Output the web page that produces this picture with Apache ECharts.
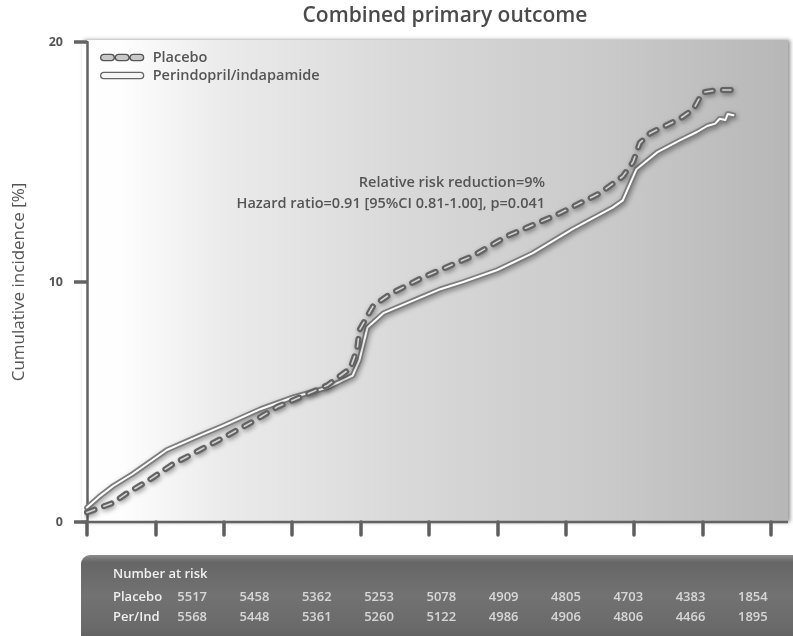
<!DOCTYPE html>
<html><head><meta charset="utf-8">
<script src="https://cdn.jsdelivr.net/npm/echarts@6/dist/echarts.min.js"></script>
<style>html,body{margin:0;padding:0;background:#fff}#c{width:793px;height:636px}</style>
</head><body><div id="c"></div>
<script>
// ---- data (months since randomisation, cumulative incidence %) ----
const placeboMonths = [0, 2.3, 3.5, 5.3, 7.5, 9.9, 12.3, 14.6, 16.7, 18.7, 21.1, 23.1, 23.7, 23.9, 25.1, 26.6, 29.5, 33.9, 36.8, 41.2, 45.0, 47.0, 47.9, 48.5, 49.4, 52.0, 53.2, 54.0, 55.3, 56.7];
const placeboPct    = [0.4, 0.8, 1.2, 1.7, 2.4, 3.0, 3.6, 4.2, 4.8, 5.2, 5.7, 6.4, 7.2, 8.0, 9.0, 9.5, 10.2, 11.1, 11.9, 12.8, 13.7, 14.4, 15.0, 15.8, 16.2, 16.8, 17.2, 17.9, 18.0, 18.0];
const perIndMonths  = [0, 1.2, 2.3, 4.0, 5.5, 7.0, 9.9, 11.9, 15.2, 18.1, 21.1, 23.3, 23.9, 24.6, 26.0, 29.5, 31.0, 33.0, 36.0, 39.1, 42.6, 46.1, 47.0, 48.2, 50.0, 52.0, 53.5, 54.4, 55.1, 55.5, 56.0, 56.2, 56.7];
const perIndPct     = [0.6, 1.1, 1.5, 2.0, 2.5, 3.0, 3.6, 4.0, 4.7, 5.2, 5.6, 6.1, 6.75, 8.1, 8.7, 9.4, 9.7, 10.0, 10.5, 11.2, 12.2, 13.1, 13.4, 14.7, 15.4, 15.9, 16.25, 16.5, 16.6, 16.8, 16.75, 17.0, 16.95];
const seriesNames   = ['Placebo', 'Perindopril/indapamide'];
const yTickValues   = [0, 10, 20];
const xTickMonths   = [0, 6, 12, 18, 24, 30, 36, 42, 48, 54, 60];
const riskRowNames  = ['Placebo', 'Per/Ind'];
const riskPlacebo   = [5517, 5458, 5362, 5253, 5078, 4909, 4805, 4703, 4383, 1854];
const riskPerInd    = [5568, 5448, 5361, 5260, 5122, 4986, 4906, 4806, 4466, 1895];
const titleText     = 'Combined primary outcome';
const yAxisTitle    = 'Cumulative incidence [%]';
const noteLines     = ['Relative risk reduction=9%', 'Hazard ratio=0.91 [95%CI 0.81-1.00], p=0.041'];
const tableHeader   = 'Number at risk';

const FONT = '"Open Sans", "Noto Sans", sans-serif';
const pair = (xs, ys) => xs.map((x, i) => [x, ys[i]]);
const placeboData = pair(placeboMonths, placeboPct);
const perIndData = pair(perIndMonths, perIndPct);

const riskCols = riskPlacebo.map((_, i) => String(i));
const riskData = [];
riskPlacebo.forEach((v, i) => riskData.push([i, 0, v]));
riskPerInd.forEach((v, i) => riskData.push([i, 1, v]));

const placeboIcon = 'path://M3,0H10A3,3 0 0 1 10,6H3A3,3 0 0 1 3,0Z M17,0H24A3,3 0 0 1 24,6H17A3,3 0 0 1 17,0Z M31,0H38A3,3 0 0 1 38,6H31A3,3 0 0 1 31,0Z';
const capsuleIcon = 'path://M3,0H38A3,3 0 0 1 38,6H3A3,3 0 0 1 3,0Z';

const chart = echarts.init(document.getElementById('c'), null, {renderer: 'canvas'});
const shadow = {shadowColor: 'rgba(0,0,0,0.4)', shadowBlur: 5, shadowOffsetX: 1, shadowOffsetY: 2};

chart.setOption({
  animation: false,
  backgroundColor: '#ffffff',
  textStyle: {fontFamily: FONT},
  title: {
    text: titleText, left: 440, top: 1, textAlign: 'center',
    textStyle: {fontFamily: FONT, fontSize: 21, fontWeight: 600, color: '#4a4a4a'}
  },
  legend: {
    orient: 'vertical', left: 95, top: 45, itemWidth: 43, itemHeight: 7, itemGap: 3,
    selectedMode: false,
    textStyle: {fontFamily: FONT, fontSize: 14.5, fontWeight: 600, color: '#555', padding: [0, 0, 0, 4]},
    data: [
      {name: seriesNames[0], icon: placeboIcon, itemStyle: {color: '#c8c8c8', borderColor: '#555', borderWidth: 1.3}},
      {name: seriesNames[1], icon: capsuleIcon, itemStyle: {color: '#f6f6f6', borderColor: '#666', borderWidth: 1.3}}
    ]
  },
  grid: [
    {left: 87, right: 22, top: 42, bottom: 114},
    {left: 161, right: 9, top: 587, height: 40}
  ],
  xAxis: [
    {
      type: 'value', gridIndex: 0, min: xTickMonths[0], max: xTickMonths[xTickMonths.length - 1], interval: 6,
      offset: 5,
      axisLine: {show: false},
      axisTick: {show: true, length: 13, lineStyle: {color: '#5e5e5e', width: 3.5, cap: 'round'}},
      axisLabel: {show: false}, splitLine: {show: false}
    },
    {
      type: 'category', gridIndex: 1, data: riskCols,
      axisLine: {show: false}, axisTick: {show: false}, axisLabel: {show: false}, splitLine: {show: false}
    }
  ],
  yAxis: [
    {
      type: 'value', gridIndex: 0, min: yTickValues[0], max: yTickValues[2], interval: 10,
      offset: 5,
      name: yAxisTitle, nameLocation: 'middle', nameGap: 54, nameRotate: 90,
      nameTextStyle: {fontFamily: FONT, fontSize: 17, fontWeight: 500, color: '#555'},
      axisLine: {show: true, lineStyle: {color: '#636363', width: 2.5}},
      axisTick: {show: true, inside: false, length: 13, lineStyle: {color: '#636363', width: 3.5}},
      axisLabel: {margin: 19, fontFamily: FONT, fontSize: 12.5, fontWeight: 700, color: '#555'},
      splitLine: {show: false}
    },
    {
      type: 'category', gridIndex: 1, data: riskRowNames, inverse: true,
      axisLine: {show: false}, axisTick: {show: false}, splitLine: {show: false},
      axisLabel: {margin: 48, align: 'left', fontFamily: FONT, fontSize: 13, fontWeight: 600, color: '#f0f0f0'}
    }
  ],
  series: [
    {
      name: seriesNames[1], type: 'line', xAxisIndex: 0, yAxisIndex: 0, data: perIndData,
      symbol: 'none', z: 3, color: '#f6f6f6',
      lineStyle: Object.assign({color: '#7c7c7c', width: 5.5, join: 'round', cap: 'round'}, shadow)
    },
    {
      name: 'perind-core', type: 'line', xAxisIndex: 0, yAxisIndex: 0, data: perIndData,
      symbol: 'none', z: 4, silent: true,
      lineStyle: {color: '#ffffff', width: 2, join: 'round', cap: 'round'}
    },
    {
      name: seriesNames[0], type: 'line', xAxisIndex: 0, yAxisIndex: 0, data: placeboData,
      symbol: 'none', z: 5, color: '#c8c8c8',
      lineStyle: Object.assign({color: '#636363', width: 6, type: [8, 10], cap: 'round', join: 'round'}, shadow)
    },
    {
      name: 'placebo-core', type: 'line', xAxisIndex: 0, yAxisIndex: 0, data: placeboData,
      symbol: 'none', z: 6, silent: true,
      lineStyle: {color: '#d4d4d4', width: 1.6, type: [8, 10], cap: 'round', join: 'round'}
    },
    {
      name: 'risk', type: 'scatter', xAxisIndex: 1, yAxisIndex: 1, data: riskData,
      symbolSize: 1, itemStyle: {color: 'rgba(0,0,0,0)'}, silent: true,
      label: {show: true, position: 'inside', formatter: p => String(p.value[2]),
        fontFamily: FONT, fontSize: 13, fontWeight: 600, color: '#f0f0f0'}
    }
  ],
  graphic: [
    {
      type: 'rect', z: -10, silent: true,
      shape: {x: 82, y: 40, width: 706, height: 482},
      style: {
        fill: new echarts.graphic.LinearGradient(0, 0, 1, 0, [
          {offset: 0, color: '#ffffff'}, {offset: 0.06, color: '#fdfdfd'},
          {offset: 0.2, color: '#ebebeb'}, {offset: 0.45, color: '#d9d9d9'},
          {offset: 0.75, color: '#c9c9c9'}, {offset: 1, color: '#b7b7b7'}
        ]),
        shadowColor: 'rgba(0,0,0,0.45)', shadowBlur: 4, shadowOffsetX: 2, shadowOffsetY: 0
      }
    },
    {
      type: 'line', z: 10, silent: true,
      shape: {x1: 81, y1: 522, x2: 788, y2: 522},
      style: {stroke: '#636363', lineWidth: 2.5}
    },
    {
      type: 'rect', z: -10, silent: true,
      shape: {x: 81, y: 555, width: 720, height: 90, r: [9, 0, 0, 0]},
      style: {
        fill: new echarts.graphic.LinearGradient(0, 0, 0, 1, [
          {offset: 0, color: '#8c8c8c'}, {offset: 0.08, color: '#666666'},
          {offset: 0.45, color: '#727272'}, {offset: 0.8, color: '#6a6a6a'}, {offset: 1, color: '#5c5c5c'}
        ])
      }
    },
    {
      type: 'text', z: 10, silent: true, left: 113, top: 568,
      style: {text: tableHeader, font: '600 13px ' + FONT, fill: '#f0f0f0'}
    },
    {
      type: 'text', z: 10, silent: true, x: 545, y: 183,
      style: {text: noteLines[0], font: '600 14.5px ' + FONT, fill: '#555', textAlign: 'right', textVerticalAlign: 'middle'}
    },
    {
      type: 'text', z: 10, silent: true, x: 545, y: 204,
      style: {text: noteLines[1], font: '600 14.5px ' + FONT, fill: '#555', textAlign: 'right', textVerticalAlign: 'middle'}
    }
  ]
});
</script>
</body></html>
